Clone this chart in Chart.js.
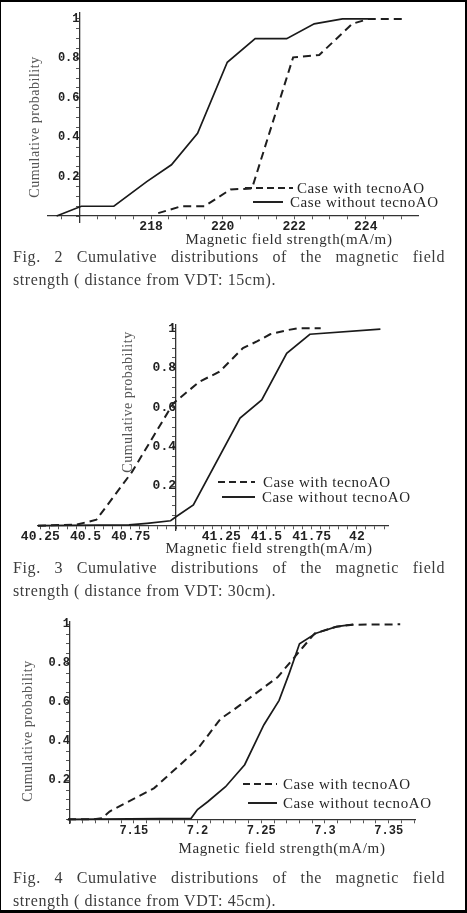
<!DOCTYPE html>
<html>
<head>
<meta charset="utf-8">
<script src="https://cdn.jsdelivr.net/npm/chart.js@4.4.1/dist/chart.umd.min.js"></script>
<style>
body { margin: 0; background: #fff; }
#page { position: relative; width: 467px; height: 913px; overflow: hidden; background: #fff;
  font-family: "Liberation Serif", "Times New Roman", serif; color: #2e2e2e; }
#frame { position: absolute; left: 0; top: 0; width: 467px; height: 913px; box-sizing: border-box;
  border-top: 2px solid #000; border-left: 1px solid #000; border-right: 2px solid #000; border-bottom: 3px solid #000; pointer-events: none; }
canvas { position: absolute; left: 0; }
.txt { position: absolute; white-space: nowrap; line-height: 18px; }
.xt { font-size: 15px; letter-spacing: .65px; transform: translate(-50%, -50%); }
.yt { font-size: 14px; letter-spacing: .5px; color: #555; transform: translate(-50%, -50%) rotate(-90deg); }
.lgt { font-size: 15px; letter-spacing: .6px; transform: translateY(-50%); color: #262626; }
.lgl { position: absolute; height: 2px; transform: translateY(-50%); }
.cap { position: absolute; left: 13px; width: 432px; font-size: 16px; letter-spacing: .6px; line-height: 20px; color: #3c3c3c; }
.cap.j { text-align: justify; text-align-last: justify; }
</style>
</head>
<body>
<div id="page">
  <canvas id="c2" width="467" height="250" style="top:0px"></canvas>
  <canvas id="c3" width="467" height="260" style="top:300px"></canvas>
  <canvas id="c4" width="467" height="260" style="top:600px"></canvas>
  <div id="frame"></div>
</div>
<script>
const seriesNames = ['Case with tecnoAO', 'Case without tecnoAO'];
const xTitle = 'Magnetic field strength(mA/m)';
const yTitle = 'Cumulative probability';

// Fig. 2 : 15cm
const fig2WithX = [218.2, 218.85, 219.49, 220.22, 220.82, 221.97, 222.7, 223.62, 224.08, 225.1];
const fig2WithY = [0.015, 0.05, 0.05, 0.135, 0.14, 0.805, 0.817, 0.975, 1, 1];
const fig2WithoutX = [215.36, 216.05, 216.96, 217.88, 218.57, 219.3, 220.13, 220.91, 221.79, 222.56, 223.35, 224.17];
const fig2WithoutY = [0, 0.05, 0.05, 0.175, 0.26, 0.42, 0.78, 0.9, 0.9, 0.975, 1, 1];
const fig2XTicks = [218, 220, 222, 224];
const fig2YTicks = [0.2, 0.4, 0.6, 0.8, 1];
const fig2Caption = ['Fig. 2  Cumulative distributions of the magnetic field', 'strength ( distance from VDT: 15cm).'];

// Fig. 3 : 30cm
const fig3WithX = [40.237, 40.45, 40.56, 40.755, 40.985, 41.13, 41.24, 41.37, 41.45, 41.52, 41.61, 41.67, 41.8];
const fig3WithY = [0, 0.005, 0.03, 0.27, 0.62, 0.73, 0.78, 0.9, 0.935, 0.97, 0.99, 1, 1];
const fig3WithoutX = [40.237, 40.74, 40.84, 40.97, 41.0, 41.096, 41.354, 41.474, 41.612, 41.74, 42.13];
const fig3WithoutY = [0, 0.004, 0.012, 0.025, 0.045, 0.105, 0.545, 0.637, 0.873, 0.97, 0.996];
const fig3XTicks = [40.25, 40.5, 40.75, 41.25, 41.5, 41.75, 42];
const fig3YTicks = [0.2, 0.4, 0.6, 0.8, 1];
const fig3Caption = ['Fig. 3 Cumulative distributions of the magnetic field', 'strength ( distance from VDT: 30cm).'];

// Fig. 4 : 45cm
const fig4WithX = [7.0984, 7.118, 7.125, 7.131, 7.166, 7.2, 7.218, 7.228, 7.263, 7.272, 7.283, 7.292, 7.309, 7.322, 7.359];
const fig4WithY = [0, 0, 0.005, 0.04, 0.16, 0.36, 0.515, 0.56, 0.73, 0.8, 0.885, 0.954, 0.988, 0.998, 1];
const fig4WithoutX = [7.0984, 7.195, 7.2, 7.208, 7.222, 7.237, 7.252, 7.264, 7.272, 7.28, 7.293, 7.309, 7.322];
const fig4WithoutY = [0, 0.005, 0.05, 0.09, 0.167, 0.28, 0.484, 0.61, 0.75, 0.9, 0.954, 0.988, 1];
const fig4XTicks = [7.15, 7.2, 7.25, 7.3, 7.35];
const fig4YTicks = [0.2, 0.4, 0.6, 0.8, 1];
const fig4Caption = ['Fig. 4 Cumulative distributions of the magnetic field', 'strength ( distance from VDT: 45cm).'];

// layout of each panel (page pixels)
const panels = [
  { id: 'c2', top: 0, pad: { left: 48, right: 49, top: 13, bottom: 28 },
    xMin: 215.12, xMax: 225.46, yMin: -0.03, yMax: 1.03, origin: 216,
    xMinor: [215.5, 225, 0.5], xFont: 13, yFont: 12, xPad: 0, yPad: 4,
    wx: fig2WithX, wy: fig2WithY, ox: fig2WithoutX, oy: fig2WithoutY, xt: fig2XTicks, yt: fig2YTicks, cap: fig2Caption,
    xTitle: [289, 239], yTitle: [35, 127], capY: 257,
    leg: [[245, 293, 297, 188], [253, 283, 290, 202]] },
  { id: 'c3', top: 300, pad: { left: 38, right: 79, top: 25, bottom: 30 },
    xMin: 40.237, xMax: 42.172, yMin: -0.022, yMax: 1.017, origin: 41,
    xMinor: [40.25, 42.15, 0.05], xFont: 13, yFont: 13, xPad: 0, yPad: 1,
    wx: fig3WithX, wy: fig3WithY, ox: fig3WithoutX, oy: fig3WithoutY, xt: fig3XTicks, yt: fig3YTicks, cap: fig3Caption,
    xTitle: [269, 548], yTitle: [128, 402], capY: 568,
    leg: [[218, 255, 263, 482], [222, 255, 262, 497]] },
  { id: 'c4', top: 600, pad: { left: 68, right: 52, top: 22, bottom: 37 },
    xMin: 7.0984, xMax: 7.3706, yMin: -0.019, yMax: 1.012, origin: 7.1,
    xMinor: [7.1, 7.37, 0.01], xFont: 12, yFont: 12, xPad: 1, yPad: 4,
    wx: fig4WithX, wy: fig4WithY, ox: fig4WithoutX, oy: fig4WithoutY, xt: fig4XTicks, yt: fig4YTicks, cap: fig4Caption,
    xTitle: [282, 848], yTitle: [28, 731], capY: 878,
    leg: [[243, 277, 283, 784], [248, 277, 283, 803]] }
];

function pts(xs, ys) {
  return xs.map((x, i) => ({ x: x, y: ys[i] }));
}
function minorTicks(lo, hi, step) {
  const out = [];
  const n = Math.round((hi - lo) / step);
  for (let i = 0; i <= n; i++) out.push({ value: +(lo + i * step).toFixed(6) });
  return out;
}
function labelFor(list) {
  return (v) => {
    const hit = list.find(t => Math.abs(t - v) < 1e-6);
    return hit === undefined ? '' : String(hit);
  };
}

const page = document.getElementById('page');
function addText(cls, text, left, top) {
  const d = document.createElement('div');
  d.className = 'txt ' + cls;
  d.textContent = text;
  d.style.left = left + 'px';
  d.style.top = top + 'px';
  page.appendChild(d);
  return d;
}

panels.forEach(p => {
  new Chart(document.getElementById(p.id), {
    type: 'line',
    data: {
      datasets: [
        { label: seriesNames[0], data: pts(p.wx, p.wy), borderColor: '#1e1e1e', borderWidth: 2,
          borderDash: [8, 5], pointRadius: 0, tension: 0, fill: false },
        { label: seriesNames[1], data: pts(p.ox, p.oy), borderColor: '#1a1a1a', borderWidth: 1.7,
          pointRadius: 0, tension: 0, fill: false }
      ]
    },
    options: {
      responsive: false,
      animation: false,
      layout: { padding: p.pad },
      plugins: { legend: { display: false }, tooltip: { enabled: false } },
      scales: {
        x: {
          type: 'linear', min: p.xMin, max: p.xMax, position: { y: 0 },
          afterBuildTicks: s => { s.ticks = minorTicks(p.xMinor[0], p.xMinor[1], p.xMinor[2]); },
          grid: { drawOnChartArea: false, tickLength: 3, color: '#555' },
          border: { color: '#333', width: 1.3 },
          ticks: { autoSkip: false, maxRotation: 0, padding: p.xPad, color: '#222',
            font: { family: '"Liberation Mono", "Courier New", monospace', size: p.xFont, weight: 'bold' },
            callback: labelFor(p.xt) }
        },
        y: {
          type: 'linear', min: p.yMin, max: p.yMax, position: { x: p.origin },
          afterBuildTicks: s => { s.ticks = minorTicks(0, 1, 0.05); },
          grid: { drawOnChartArea: false, tickLength: 3, color: '#555' },
          border: { color: '#333', width: 1.3 },
          ticks: { autoSkip: false, padding: p.yPad, color: '#222',
            font: { family: '"Liberation Mono", "Courier New", monospace', size: p.yFont, weight: 'bold' },
            callback: labelFor(p.yt) }
        }
      }
    }
  });

  addText('xt', xTitle, p.xTitle[0], p.xTitle[1]);
  addText('yt', yTitle, p.yTitle[0], p.yTitle[1]);

  p.leg.forEach((l, i) => {
    const line = document.createElement('div');
    line.className = 'lgl';
    line.style.left = l[0] + 'px';
    line.style.top = l[3] + 'px';
    line.style.width = (l[1] - l[0]) + 'px';
    line.style.background = i === 0
      ? 'repeating-linear-gradient(90deg, #222 0 7px, transparent 7px 11px)'
      : '#222';
    page.appendChild(line);
    addText('lgt', seriesNames[i], l[2], l[3]);
  });

  const c1 = document.createElement('div');
  c1.className = 'cap j';
  c1.textContent = p.cap[0];
  c1.style.top = (p.capY - 10) + 'px';
  page.appendChild(c1);
  const c2 = document.createElement('div');
  c2.className = 'cap';
  c2.textContent = p.cap[1];
  c2.style.top = (p.capY + 13) + 'px';
  page.appendChild(c2);
});
</script>
</body>
</html>
